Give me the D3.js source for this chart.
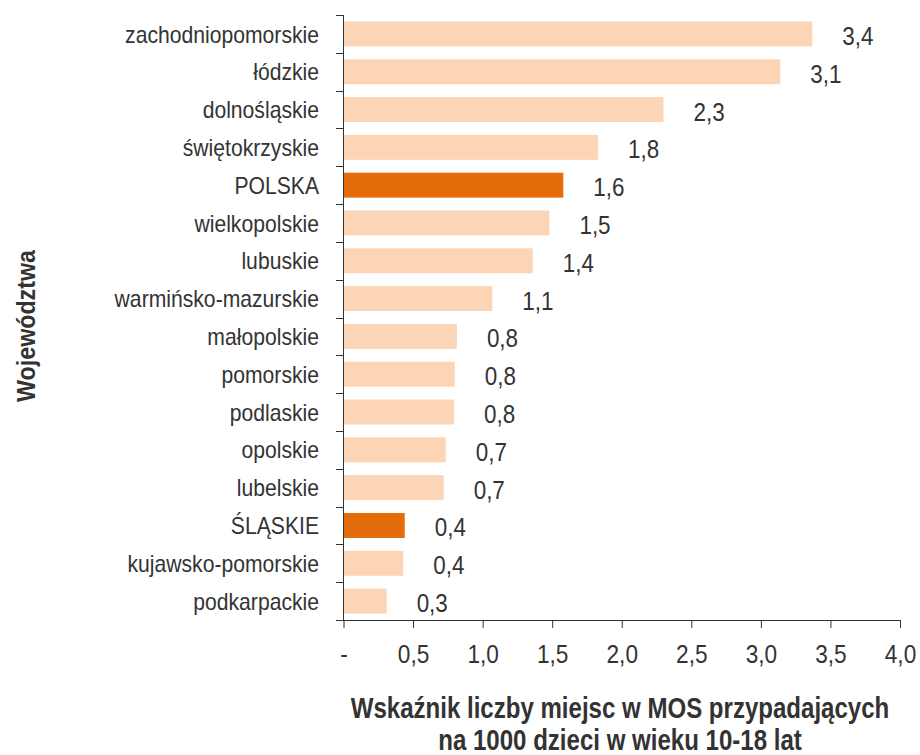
<!DOCTYPE html>
<html><head><meta charset="utf-8">
<script src="https://cdn.jsdelivr.net/npm/d3@7"></script>
<style>
body{margin:0;background:#fff;}
text{font-family:"Liberation Sans",Arial,sans-serif;fill:#333;}
</style></head>
<body><svg id="c" width="920" height="755"></svg>
<script>
const categories = ["zachodniopomorskie","łódzkie","dolnośląskie","świętokrzyskie","POLSKA","wielkopolskie","lubuskie","warmińsko-mazurskie","małopolskie","pomorskie","podlaskie","opolskie","lubelskie","ŚLĄSKIE","kujawsko-pomorskie","podkarpackie"];
const values = [3.37,3.14,2.30,1.83,1.58,1.48,1.36,1.07,0.815,0.80,0.795,0.735,0.72,0.44,0.43,0.31];
const valueLabels = ["3,4","3,1","2,3","1,8","1,6","1,5","1,4","1,1","0,8","0,8","0,8","0,7","0,7","0,4","0,4","0,3"];
const highlighted = ["POLSKA","ŚLĄSKIE"];
const xTicks = [0,0.5,1,1.5,2,2.5,3,3.5,4];
const xTickLabels = ["-","0,5","1,0","1,5","2,0","2,5","3,0","3,5","4,0"];
const xTitle = ["Wskaźnik liczby miejsc w MOS przypadających","na 1000 dzieci w wieku 10-18 lat"];
const yTitle = "Województwa";

const svg = d3.select("#c");
const plotTop = 15, plotBottom = 620;
const x = d3.scaleLinear().domain([0,4]).range([343.5,900]);
const y = d3.scaleBand().domain(categories).range([plotTop,plotBottom]).paddingInner(0.34).paddingOuter(0.17);
const band = (plotBottom-plotTop)/categories.length;

function stext(parent, tx, ty, sx, str, size, anchor, weight){
  const g = parent.append("g").attr("transform",`translate(${tx},${ty}) scale(${sx},1)`);
  g.append("text").attr("text-anchor",anchor||"start").attr("font-size",size)
    .attr("font-weight",weight||"normal").text(str);
  return g;
}

// bars
svg.selectAll("rect.bar").data(categories).enter().append("rect")
  .attr("x", x(0)).attr("y", d=>y(d))
  .attr("width", (d,i)=>x(values[i])-x(0)).attr("height", y.bandwidth())
  .attr("fill", d=>highlighted.includes(d)?"#E46C0A":"#FBD5B5");

// value labels
categories.forEach((d,i)=>{
  stext(svg, x(values[i])+30, y(d)+y.bandwidth()/2+11, 0.88, valueLabels[i], 25.5, "start");
});

// y axis line & ticks at band boundaries
const g = svg.append("g");
g.append("line").attr("x1",343.5).attr("x2",343.5).attr("y1",plotTop).attr("y2",plotBottom).attr("stroke","#333").attr("stroke-width",1);
d3.range(categories.length+1).forEach(i=>{
  const yy = Math.round(plotTop + i*band)+0.5;
  g.append("line").attr("x1",336).attr("x2",343.5).attr("y1",yy).attr("y2",yy).attr("stroke","#333");
});
// category labels
categories.forEach(d=>{
  stext(svg, 319, y(d)+y.bandwidth()/2+8.6, 0.92, d, 23, "end");
});

// x axis
const xAxis = d3.axisBottom(x).tickValues(xTicks).tickFormat((d,i)=>xTickLabels[i]).tickSize(8).tickSizeOuter(0);
const ga = svg.append("g").attr("transform",`translate(0,${plotBottom})`).call(xAxis);
ga.select(".domain").attr("stroke","#333").attr("d","M336,0.5H900");
ga.selectAll(".tick line").attr("stroke","#333");
ga.selectAll(".tick text").attr("font-size",26).attr("fill","#333")
  .attr("y",43).attr("dy",0).attr("transform","scale(0.87,1)")
  .style("font-family",'"Liberation Sans",Arial,sans-serif');

// titles
stext(svg, 620, 718, 0.83, xTitle[0], 29, "middle", "bold");
stext(svg, 620, 750, 0.83, xTitle[1], 29, "middle", "bold");
svg.append("g").attr("transform","translate(35,326) rotate(-90) scale(0.93,1)")
  .append("text").attr("text-anchor","middle").attr("font-size",25).attr("font-weight","bold").text(yTitle);
</script></body></html>
